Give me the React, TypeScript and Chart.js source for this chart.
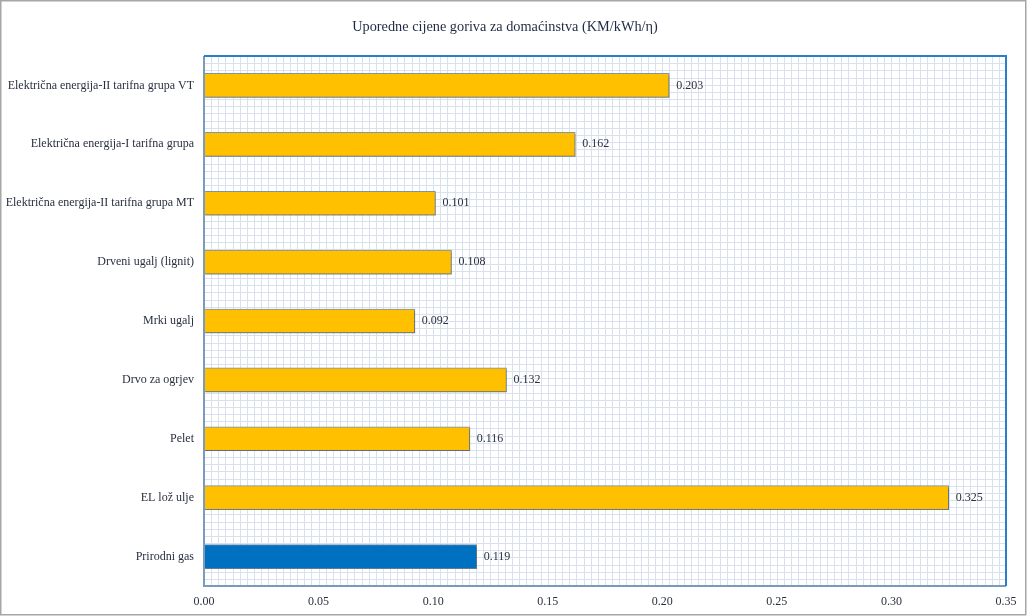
import React, { useEffect, useRef } from "react";
import { Chart, registerables } from "chart.js";

Chart.register(...registerables);

const TITLE = "Uporedne cijene goriva za domaćinstva (KM/kWh/η)";

const categories: string[] = [
  "Električna energija-II tarifna grupa VT",
  "Električna energija-I tarifna grupa",
  "Električna energija-II tarifna grupa MT",
  "Drveni ugalj (lignit)",
  "Mrki ugalj",
  "Drvo za ogrjev",
  "Pelet",
  "EL lož ulje",
  "Prirodni gas",
];

const prices: number[] = [0.203, 0.162, 0.101, 0.108, 0.092, 0.132, 0.116, 0.325, 0.119];

const barColors: string[] = [
  "#ffc000", "#ffc000", "#ffc000", "#ffc000", "#ffc000",
  "#ffc000", "#ffc000", "#ffc000", "#0070c0",
];

const X_MIN = 0;
const X_MAX = 0.35;
const X_STEP = 0.05;

const SERIF = '"Liberation Serif", "Times New Roman", serif';
const TEXT = "#2a3040";

const backgroundPlugin = {
  id: "bgGrid",
  beforeDraw(chart: any) {
    const { ctx, chartArea, width, height } = chart;
    ctx.save();
    ctx.fillStyle = "#ffffff";
    ctx.fillRect(0, 0, width, height);
    // outer frame
    ctx.strokeStyle = "#a6a6a6";
    ctx.lineWidth = 1.5;
    ctx.strokeRect(0.75, 0.75, 1025, 614);
    // fine grid pattern in plot area
    const xs = chart.scales.x;
    const step = (xs.getPixelForValue(X_STEP) - xs.getPixelForValue(0)) / 16;
    ctx.strokeStyle = "#d8e2ee";
    ctx.lineWidth = 1;
    ctx.beginPath();
    for (let x = chartArea.left + step; x < chartArea.right - 0.5; x += step) {
      const px = Math.round(x) + 0.5;
      ctx.moveTo(px, chartArea.top);
      ctx.lineTo(px, chartArea.bottom);
    }
    for (let y = chartArea.bottom - step; y > chartArea.top + 0.5; y -= step) {
      const py = Math.round(y) + 0.5;
      ctx.moveTo(chartArea.left, py);
      ctx.lineTo(chartArea.right, py);
    }
    ctx.stroke();
    // title
    ctx.fillStyle = "#1f2a44";
    ctx.font = "14.3px " + SERIF;
    ctx.textAlign = "center";
    ctx.textBaseline = "middle";
    ctx.fillText(TITLE, 505, 27);
    ctx.restore();
  },
  beforeDatasetDraw(chart: any) {
    const ctx = chart.ctx;
    ctx.save();
    ctx.shadowColor = "rgba(0,0,0,0.28)";
    ctx.shadowOffsetX = 1.5;
    ctx.shadowOffsetY = 1.5;
    ctx.shadowBlur = 2;
  },
  afterDatasetDraw(chart: any) {
    chart.ctx.restore();
  },
  afterDatasetsDraw(chart: any) {
    const { ctx } = chart;
    const meta = chart.getDatasetMeta(0);
    ctx.save();
    ctx.fillStyle = TEXT;
    ctx.font = "12px " + SERIF;
    ctx.textAlign = "left";
    ctx.textBaseline = "middle";
    meta.data.forEach((el: any, i: number) => {
      ctx.fillText(prices[i].toFixed(3), el.x + 7, el.y);
    });
    ctx.restore();
  },
  afterDraw(chart: any) {
    const { ctx, chartArea } = chart;
    const { left, right, top, bottom } = chartArea;
    ctx.save();
    ctx.lineWidth = 2;
    ctx.strokeStyle = "#7b9bbd";
    ctx.beginPath();
    ctx.moveTo(left, top);
    ctx.lineTo(left, bottom);
    ctx.lineTo(right, bottom);
    ctx.stroke();
    ctx.strokeStyle = "#2b7fca";
    ctx.beginPath();
    ctx.moveTo(left, top);
    ctx.lineTo(right, top);
    ctx.lineTo(right, bottom);
    ctx.stroke();
    ctx.restore();
  },
};

export default function App() {
  const canvasRef = useRef<HTMLCanvasElement | null>(null);

  useEffect(() => {
    document.body.style.margin = "0";
    const canvas = canvasRef.current;
    if (!canvas) return;
    const chart = new Chart(canvas, {
      type: "bar",
      data: {
        labels: categories,
        datasets: [
          {
            data: prices,
            backgroundColor: barColors,
            borderColor: "#7f95ab",
            borderWidth: 1,
            barThickness: 24,
          },
        ],
      },
      options: {
        indexAxis: "y",
        responsive: false,
        animation: false,
        devicePixelRatio: 1,
        layout: { padding: { top: 56, right: 24, bottom: 0, left: 0 } },
        plugins: {
          legend: { display: false },
          title: { display: false },
          tooltip: { enabled: false },
        },
        scales: {
          x: {
            type: "linear",
            min: X_MIN,
            max: X_MAX,
            border: { display: false },
            grid: { display: false, drawTicks: false },
            ticks: {
              stepSize: X_STEP,
              padding: 9,
              color: TEXT,
              font: { family: SERIF, size: 12 },
              callback: (v: any) => Number(v).toFixed(2),
            },
            afterFit: (scale: any) => {
              scale.height = 30;
            },
          },
          y: {
            border: { display: false },
            grid: { display: false, drawTicks: false },
            ticks: {
              padding: 10,
              color: TEXT,
              font: { family: SERIF, size: 12 },
            },
            afterFit: (scale: any) => {
              scale.width = 204;
            },
          },
        },
      },
      plugins: [backgroundPlugin],
    });
    return () => chart.destroy();
  }, []);

  return (
    <div style={{ position: "absolute", left: 0, top: 0, width: 1030, height: 616 }}>
      <canvas ref={canvasRef} width={1030} height={616} style={{ width: 1030, height: 616 }} />
    </div>
  );
}
